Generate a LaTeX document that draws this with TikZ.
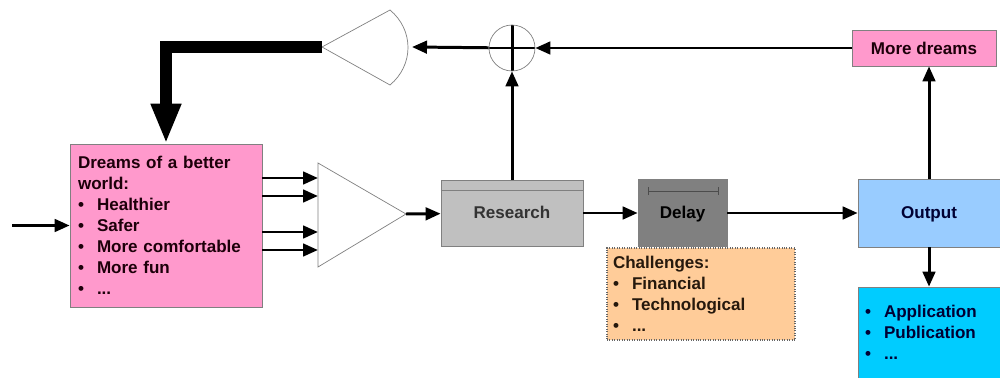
\documentclass[tikz,border=0pt]{standalone}
\usepackage{fontspec}
\setmainfont{Liberation Sans}
\usetikzlibrary{arrows.meta}
\definecolor{dreampink}{HTML}{FF99CC}
\definecolor{resgray}{HTML}{C0C0C0}
\definecolor{delaygray}{HTML}{808080}
\definecolor{outblue}{HTML}{99CCFF}
\definecolor{appcyan}{HTML}{00CCFF}
\definecolor{chalorange}{HTML}{FFCC99}
\newcommand{\itm}{\makebox[0.38cm][l]{\textbullet}}
\begin{document}
\begin{tikzpicture}[x=0.02cm, y=-0.02cm, font=\fontsize{9.7}{12}\selectfont\bfseries,
  box/.style={draw=gray, thin, inner sep=0pt, align=center},
  conn/.style={line width=1.7pt, -{Triangle[length=0.3cm,width=0.25cm]}},
  amp/.style={draw=gray, thin, fill=white}]
\useasboundingbox (0,0) rectangle (1000,378);

\node[box, fill=dreampink, text=black!85!purple, minimum width=3.84cm, minimum height=3.26cm, text width=3.52cm, inner xsep=0.16cm, align=left] (dreams) at (166,225.5) {Dreams of a better\\ world:\\ \itm Healthier\\ \itm Safer\\ \itm More comfortable\\ \itm More fun\\ \itm ...};
\node[box, fill=resgray, text=black!80, text height=1.5ex, text depth=0.3ex, minimum width=2.84cm, minimum height=1.32cm] (research) at (512,213) {Research};
\node[box, fill=delaygray, text height=1.5ex, text depth=0.3ex, minimum width=1.78cm, minimum height=1.34cm] (delay) at (682.5,213) {Delay};
\node[box, fill=outblue, text=black!80!blue, text height=1.5ex, text depth=0.3ex, minimum width=2.84cm, minimum height=1.36cm] (output) at (929,213) {Output};
\node[box, fill=dreampink, text=black!85!purple, minimum width=2.88cm, minimum height=0.72cm] (more) at (924,48) {More dreams};
\node[box, fill=appcyan, text=black!80!blue, minimum width=2.84cm, minimum height=1.82cm, text width=2.56cm, inner xsep=0.14cm, align=left] (apps) at (929,332.5) {\itm Application\\ \itm Publication\\ \itm ...};
\node[box, draw=black!60, densely dotted, line width=1pt, fill=chalorange, text=black!80!brown, minimum width=3.76cm, minimum height=1.84cm, text width=3.52cm, inner xsep=0.12cm, align=left] (chal) at (701,294) {Challenges:\\ \itm Financial\\ \itm Technological\\ \itm ...};
\node[circle, draw=gray, thin, minimum size=0.92cm, inner sep=0pt, path picture={\draw[black, line width=1.7pt] (path picture bounding box.north) -- (path picture bounding box.south) (path picture bounding box.west) -- (path picture bounding box.east);}] (sum) at (512,48) {};

\draw[gray] ([yshift=-0.22cm]research.north west) -- ([yshift=-0.22cm]research.north east);
\draw[|-|, thin, black!70] ([xshift=0.2cm,yshift=-0.24cm]delay.north west) -- ([xshift=-0.18cm,yshift=-0.24cm]delay.north east);

\draw[amp] (318,163) -- (406,214) -- (318,267) -- cycle;
\coordinate (amp1w) at (318,214);
\coordinate (amp1e) at (406,214);
\draw[amp] (322,47) -- (390,10) .. controls (414,30) and (414,65) .. (390,85) -- cycle;
\coordinate (amp2w) at (322,47);
\coordinate (amp2e) at (412,47);
\coordinate (in) at (12,225.5);

\draw[conn] (in) -- (dreams);
\foreach \y in {178,196,232,250}
  \draw[conn] (dreams.east |- 0,\y) -- (amp1w |- 0,\y);
\draw[conn] (amp1e) -- (research);
\draw[conn] (research) -- (delay);
\draw[conn] (delay) -- (output);
\draw[conn] (output.north) -- (output.north |- more.south);
\draw[conn] (output) -- (apps);
\draw[conn] (more) -- (sum);
\draw[conn] (research) -- (sum);
\draw[conn] (sum) -- (amp2e);
\draw[line width=6.5pt, -{Triangle[length=0.8cm,width=0.56cm]}] (amp2w) -| (dreams.north);
\end{tikzpicture}
\end{document}
